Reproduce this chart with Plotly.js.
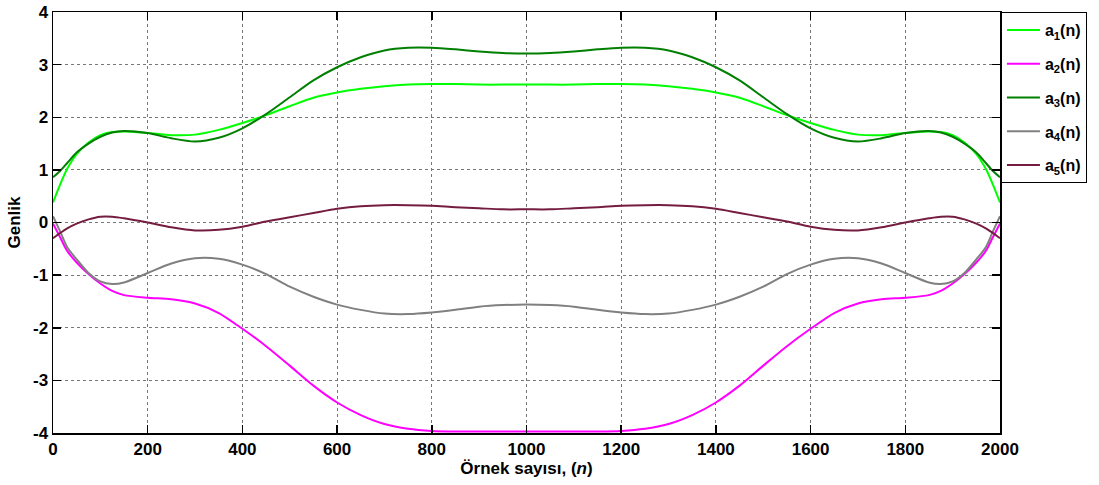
<!DOCTYPE html>
<html>
<head>
<meta charset="utf-8">
<script src="https://cdn.plot.ly/plotly-3.0.1.min.js"></script>
<style>
  html, body { margin: 0; padding: 0; background: #fff; }
  #chart { width: 1099px; height: 485px; }
</style>
</head>
<body>
<div id="chart"></div>
<script>
// Sample index n
const n = [0, 15, 30, 50, 75, 100, 125, 150, 200, 250, 300, 350, 400, 450, 500, 550, 600, 650, 700, 750, 800, 850, 900, 950,
           1000, 1050, 1100, 1150, 1200, 1250, 1300, 1350, 1400, 1450, 1500, 1550, 1600, 1650, 1700, 1750, 1800, 1850, 1875, 1900, 1925, 1950, 1970, 1985, 2000];

// Amplitude of each component
const a1 = [0.38, 0.72, 1.02, 1.30, 1.52, 1.66, 1.72, 1.73, 1.70, 1.66, 1.67, 1.76, 1.89, 2.04, 2.21, 2.37, 2.47, 2.54, 2.59, 2.62, 2.63, 2.63, 2.62, 2.62,
            2.62, 2.62, 2.62, 2.63, 2.63, 2.62, 2.59, 2.54, 2.47, 2.37, 2.21, 2.04, 1.89, 1.76, 1.67, 1.66, 1.70, 1.73, 1.72, 1.66, 1.52, 1.30, 1.02, 0.72, 0.38];
const a2 = [-0.02, -0.28, -0.54, -0.76, -0.98, -1.16, -1.30, -1.38, -1.43, -1.46, -1.54, -1.72, -2.02, -2.35, -2.72, -3.10, -3.42, -3.66, -3.83, -3.92, -3.96, -3.97, -3.97, -3.97,
            -3.97, -3.97, -3.97, -3.97, -3.96, -3.92, -3.83, -3.66, -3.42, -3.10, -2.72, -2.35, -2.02, -1.72, -1.54, -1.46, -1.43, -1.38, -1.30, -1.16, -0.98, -0.76, -0.54, -0.28, -0.02];
const a3 = [0.86, 0.98, 1.13, 1.33, 1.50, 1.63, 1.71, 1.74, 1.70, 1.60, 1.54, 1.61, 1.79, 2.06, 2.38, 2.70, 2.95, 3.14, 3.27, 3.32, 3.32, 3.29, 3.25, 3.22,
            3.21, 3.22, 3.25, 3.29, 3.32, 3.32, 3.27, 3.14, 2.95, 2.70, 2.38, 2.06, 1.79, 1.61, 1.54, 1.60, 1.70, 1.74, 1.71, 1.63, 1.50, 1.33, 1.13, 0.98, 0.86];
const a4 = [0.12, -0.17, -0.47, -0.70, -0.96, -1.12, -1.17, -1.14, -0.96, -0.78, -0.68, -0.69, -0.80, -0.98, -1.22, -1.41, -1.56, -1.66, -1.73, -1.74, -1.71, -1.66, -1.60, -1.57,
            -1.56, -1.57, -1.60, -1.66, -1.71, -1.74, -1.73, -1.66, -1.56, -1.41, -1.22, -0.98, -0.80, -0.69, -0.68, -0.78, -0.96, -1.14, -1.17, -1.12, -0.96, -0.70, -0.47, -0.17, 0.12];
const a5 = [-0.30, -0.20, -0.11, -0.02, 0.06, 0.11, 0.11, 0.08, 0.00, -0.09, -0.15, -0.14, -0.08, 0.02, 0.10, 0.18, 0.26, 0.31, 0.33, 0.33, 0.32, 0.29, 0.27, 0.25,
            0.25, 0.25, 0.27, 0.29, 0.32, 0.33, 0.33, 0.31, 0.26, 0.18, 0.10, 0.02, -0.08, -0.14, -0.15, -0.09, 0.00, 0.08, 0.11, 0.11, 0.06, -0.02, -0.11, -0.20, -0.30];

// Tick positions and labels (plain hyphen for negatives)
const xTicks = [0, 200, 400, 600, 800, 1000, 1200, 1400, 1600, 1800, 2000];
const yTicks = [-4, -3, -2, -1, 0, 1, 2, 3, 4];
const yTickText = ['-4', '-3', '-2', '-1', '0', '1', '2', '3', '4'];

const names = ['a<sub>1</sub>(n)', 'a<sub>2</sub>(n)', 'a<sub>3</sub>(n)', 'a<sub>4</sub>(n)', 'a<sub>5</sub>(n)'];
const colors = ['#00ff00', '#ff00ff', '#007f00', '#808080', '#751d40'];
const series = [a1, a2, a3, a4, a5];

const traces = series.map((y, i) => ({
  x: n, y: y, type: 'scatter', mode: 'lines',
  name: names[i], legendgroup: 'g' + i,
  line: { color: colors[i], width: 2, shape: 'spline', smoothing: 0.8 }
}));

const font = { family: 'Arial, "Liberation Sans", sans-serif', color: '#000', size: 17, weight: 'bold' };

const axisCommon = {
  showline: true, linecolor: '#000', linewidth: 1.5, mirror: 'ticks',
  ticks: 'inside', ticklen: 8, tickcolor: '#000', tickwidth: 1.5,
  showgrid: true, gridcolor: '#777', griddash: 'dot', gridwidth: 1,
  zeroline: false, tickfont: font, automargin: false
};

const layout = {
  width: 1099, height: 485,
  margin: { l: 53, r: 99, t: 12, b: 52 },
  paper_bgcolor: '#fff', plot_bgcolor: '#fff',
  font: font,
  showlegend: true,
  xaxis: Object.assign({}, axisCommon, {
    range: [0, 2000], tickvals: xTicks,
    title: { text: 'Örnek sayısı, (<i>n</i>)', font: font, standoff: 0 }
  }),
  yaxis: Object.assign({}, axisCommon, {
    range: [-4, 4], tickvals: yTicks, ticktext: yTickText,
    title: { text: 'Genlik', font: font, standoff: 8 }
  }),
  legend: {
    x: 1.001, xanchor: 'left', y: 1, yanchor: 'top',
    bordercolor: '#000', borderwidth: 1, bgcolor: '#fff',
    font: { family: font.family, size: 16, color: '#000', weight: 'bold' },
    itemwidth: 33, tracegroupgap: 10
  }
};

Plotly.newPlot('chart', traces, layout, { displayModeBar: false, staticPlot: true });
</script>
</body>
</html>
